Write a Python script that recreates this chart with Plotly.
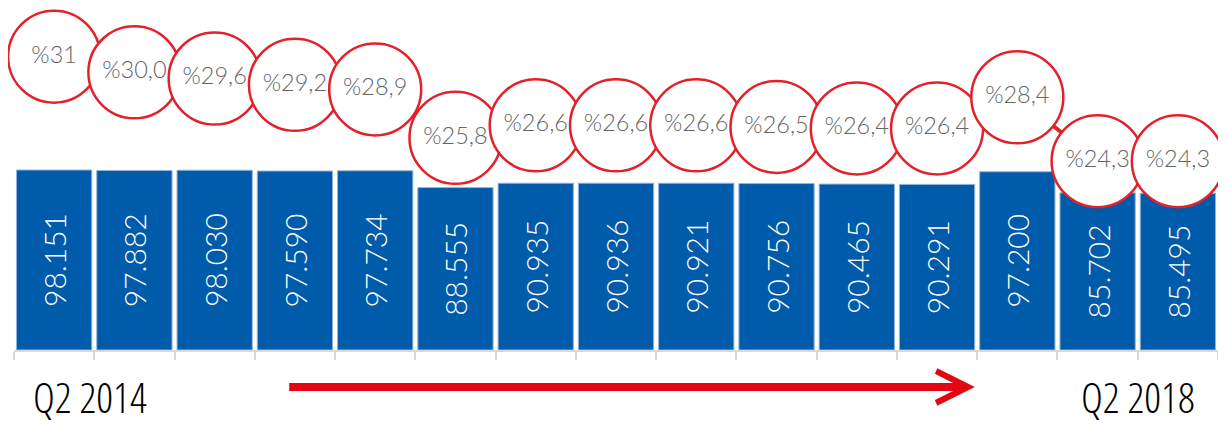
import plotly.graph_objects as go

# ---- data ----
quarters = ["Q2 2014", "Q3 2014", "Q4 2014", "Q1 2015", "Q2 2015", "Q3 2015", "Q4 2015",
            "Q1 2016", "Q2 2016", "Q3 2016", "Q4 2016", "Q1 2017", "Q2 2017", "Q3 2017", "Q2 2018"]
bar_values = [98151, 97882, 98030, 97590, 97734, 88555, 90935, 90936, 90921,
              90756, 90465, 90291, 97200, 85702, 85495]
pct_values = [31.0, 30.0, 29.6, 29.2, 28.9, 25.8, 26.6, 26.6, 26.6, 26.5, 26.4, 26.4, 28.4, 24.3, 24.3]
pct_labels = ["%31", "%30,0", "%29,6", "%29,2", "%28,9", "%25,8", "%26,6", "%26,6", "%26,6",
              "%26,5", "%26,4", "%26,4", "%28,4", "%24,3", "%24,3"]
start_label = "Q2 2014"
end_label = "Q2 2018"

BLUE = "#005BAA"
RED = "#E3212B"
ARROW_RED = "#E30613"

bar_text = [f"{v:,}".replace(",", ".") for v in bar_values]

fig = go.Figure()
fig.add_trace(go.Bar(
    x=quarters, y=bar_values, text=bar_text,
    textposition="inside", insidetextanchor="middle", textangle=-90,
    textfont=dict(family="Lato", size=30, color="white", weight=300),
    marker=dict(color=BLUE, line=dict(color="#8fb3d9", width=1)),
    cliponaxis=False, showlegend=False, hoverinfo="skip",
))
fig.add_trace(go.Scatter(
    x=quarters, y=pct_values, yaxis="y2", mode="lines+markers+text",
    text=pct_labels, textposition="middle center",
    textfont=dict(family="Lato", size=23.5, color="#666666", weight=300),
    line=dict(color=RED, width=4),
    marker=dict(size=92, color="white", line=dict(color=RED, width=2.5)),
    cliponaxis=False, showlegend=False, hoverinfo="skip",
))

label_font = dict(family="Open Sans Condensed Light, DejaVu Sans Condensed, sans-serif",
                  size=42, color="black", weight=300)

fig.update_layout(
    width=1218, height=420,
    margin=dict(l=6, r=8, t=0, b=78),
    paper_bgcolor="white", plot_bgcolor="white",
    bargap=0.0625,
    xaxis=dict(type="category", range=[-0.5, len(quarters) - 0.5],
               showticklabels=False, ticks="outside", tickson="boundaries",
               ticklen=8, tickcolor="#d9d9d9", tickwidth=2,
               showline=True, linecolor="#d9d9d9", linewidth=2,
               showgrid=False, zeroline=False),
    yaxis=dict(range=[0, 186487], visible=False, showgrid=False, zeroline=False),
    yaxis2=dict(range=[12.2, 34.12], overlaying="y", visible=False,
                showgrid=False, zeroline=False),
    annotations=[
        dict(text=start_label, xref="x", yref="paper", x=0.45, y=-0.136,
             showarrow=False, xanchor="center", yanchor="middle", font=label_font),
        dict(text=end_label, xref="x", yref="paper", x=13.5, y=-0.136,
             showarrow=False, xanchor="center", yanchor="middle", font=label_font),
        dict(text="", xref="x", yref="paper", x=11.47, y=-0.108,
             axref="x", ax=2.91, ayref="pixel", ay=0,
             showarrow=True, arrowhead=5, arrowsize=0.78, arrowwidth=8,
             arrowcolor=ARROW_RED, standoff=0),
    ],
)

fig.write_html("out.html")
